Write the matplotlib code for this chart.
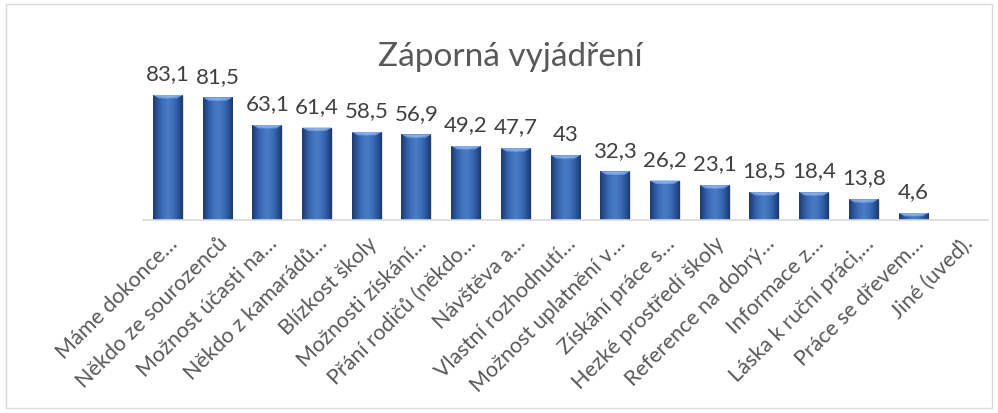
import numpy as np
import matplotlib
matplotlib.use("Agg")
import matplotlib.pyplot as plt
from matplotlib.colors import LinearSegmentedColormap
from matplotlib.patches import Rectangle, Polygon

categories = ["Máme dokonce…", "Někdo ze sourozenců", "Možnost účasti na…",
              "Někdo z kamarádů…", "Blízkost školy", "Možnosti získání…",
              "Přání rodičů (někdo…", "Návštěva a…", "Vlastní rozhodnutí…",
              "Možnost uplatnění v…", "Získání práce s…", "Hezké prostředí školy",
              "Reference na dobrý…", "Informace z…", "Láska k ruční práci,…",
              "Práce se dřevem…", "Jiné (uveď)."]
values = [83.1, 81.5, 63.1, 61.4, 58.5, 56.9, 49.2, 47.7, 43, 32.3, 26.2,
          23.1, 18.5, 18.4, 13.8, 4.6, None]
title = "Záporná vyjádření"

plt.rcParams['font.family'] = ['Lato', 'DejaVu Sans']

W, H = 998, 414
fig = plt.figure(figsize=(W / 100, H / 100), dpi=100)
fig.patch.set_facecolor('white')
fig.add_artist(Rectangle((6 / W, 5 / H), (992 - 6) / W, (409 - 5) / H,
                         transform=fig.transFigure, fill=False,
                         edgecolor='#D9D9D9', lw=1))

ax_left, ax_right = 143 / W, 988 / W
base_y = 1 - 221 / H
ymax = 90
top_y = 1 - (221 - ymax * 1.504) / H
ax = fig.add_axes([ax_left, base_y, ax_right - ax_left, top_y - base_y])
ax.set_xlim(-0.5, len(categories) - 0.5)
ax.set_ylim(0, ymax)
for s in ['top', 'right', 'left']:
    ax.spines[s].set_visible(False)
ax.spines['bottom'].set_color('#D9D9D9')
ax.spines['bottom'].set_linewidth(1.2)
ax.set_yticks([])

x = np.arange(len(categories))
bw = 0.6
cmap = LinearSegmentedColormap.from_list(
    'bar', ['#1C3A6E', '#2D58A0', '#3F70BC', '#4A7CC6', '#3F70BC', '#2D58A0', '#1C3A6E'])
grad = np.linspace(0, 1, 64).reshape(1, -1)

plot_vals = [v if v is not None else 0 for v in values]
bars = ax.bar(x, plot_vals, width=bw, color='none', edgecolor='none')
for xi, v, b in zip(x, values, bars):
    if v is None:
        continue
    # shadow
    ax.add_patch(Rectangle((xi - bw / 2 + 0.02, -0.6), bw, v, facecolor='#BFBFBF',
                           edgecolor='none', alpha=0.5, zorder=1))
    im = ax.imshow(grad, cmap=cmap, aspect='auto',
                   extent=(xi - bw / 2, xi + bw / 2, 0, v), zorder=2,
                   interpolation='bicubic')
    im.set_clip_path(b)
    # top bevel
    bev = min(2.2, v * 0.45)
    ax.add_patch(Polygon([(xi - bw / 2, v), (xi + bw / 2, v),
                          (xi + bw / 2 - 0.12, v - bev), (xi - bw / 2 + 0.12, v - bev)],
                         closed=True, facecolor='#6E9BDD', edgecolor='none', zorder=3))
    ax.add_patch(Polygon([(xi - bw / 2, v), (xi, v - bev), (xi + bw / 2, v)],
                         closed=True, facecolor='#8DB3EA', edgecolor='none', zorder=3, alpha=0.7))
    ax.text(xi, v + 10.5, f"{v:g}".replace('.', ','), ha='center', va='baseline',
            fontsize=16, color='#404040')

ax.set_xticks(x)
ax.set_xticklabels(categories, rotation=45, ha='right', va='top',
                   rotation_mode='anchor', fontsize=15.5, color='#595959')
ax.tick_params(axis='x', length=0, pad=9)

fig.text(510 / W, 1 - 57 / H, title, ha='center', va='center', fontsize=24,
         color='#595959')

fig.savefig('out.png', dpi=100, facecolor='white')
